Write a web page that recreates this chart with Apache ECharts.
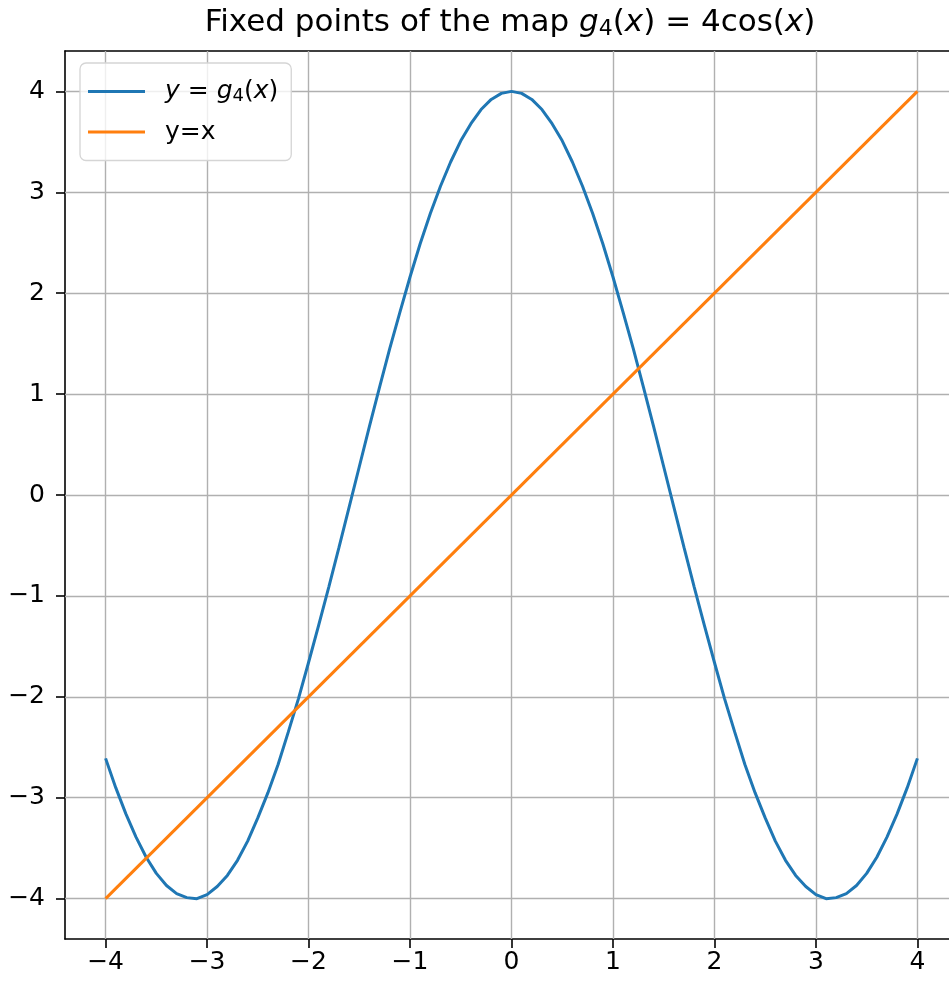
<!DOCTYPE html>
<html>
<head>
<meta charset="utf-8">
<style>
  html, body { margin: 0; padding: 0; background: #ffffff; }
  #chart { width: 949px; height: 981px; }
</style>
<script src="https://cdn.jsdelivr.net/npm/echarts@6/dist/echarts.min.js"></script>
</head>
<body>
<div id="chart"></div>
<script>
// Sample points of the curve y = g4(x)
const curveX = [
  -4.0, -3.9, -3.8, -3.7, -3.6, -3.5, -3.4, -3.3, -3.2, -3.1,
  -3.0, -2.9, -2.8, -2.7, -2.6, -2.5, -2.4, -2.3, -2.2, -2.1,
  -2.0, -1.9, -1.8, -1.7, -1.6, -1.5, -1.4, -1.3, -1.2, -1.1,
  -1.0, -0.9, -0.8, -0.7, -0.6, -0.5, -0.4, -0.3, -0.2, -0.1,
  0.0,
  0.1, 0.2, 0.3, 0.4, 0.5, 0.6, 0.7, 0.8, 0.9, 1.0,
  1.1, 1.2, 1.3, 1.4, 1.5, 1.6, 1.7, 1.8, 1.9, 2.0,
  2.1, 2.2, 2.3, 2.4, 2.5, 2.6, 2.7, 2.8, 2.9, 3.0,
  3.1, 3.2, 3.3, 3.4, 3.5, 3.6, 3.7, 3.8, 3.9, 4.0
];
const curveY = [
  -2.61, -2.90, -3.16, -3.39, -3.59, -3.75, -3.87, -3.95, -3.99, -4.00,
  -3.96, -3.88, -3.77, -3.62, -3.43, -3.20, -2.95, -2.67, -2.35, -2.02,
  -1.66, -1.29, -0.91, -0.52, -0.12, 0.28, 0.68, 1.07, 1.45, 1.81,
  2.16, 2.49, 2.79, 3.06, 3.30, 3.51, 3.68, 3.82, 3.92, 3.98,
  4.00,
  3.98, 3.92, 3.82, 3.68, 3.51, 3.30, 3.06, 2.79, 2.49, 2.16,
  1.81, 1.45, 1.07, 0.68, 0.28, -0.12, -0.52, -0.91, -1.29, -1.66,
  -2.02, -2.35, -2.67, -2.95, -3.20, -3.43, -3.62, -3.77, -3.88, -3.96,
  -4.00, -3.99, -3.95, -3.87, -3.75, -3.59, -3.39, -3.16, -2.90, -2.61
];

// The identity line y = x
const lineX = [-4, 4];
const lineY = [-4, 4];

// Tick positions shared by both axes
const tickValues = [-4, -3, -2, -1, 0, 1, 2, 3, 4];

const seriesNames = ['y = g4(x)', 'y=x'];

const FONT = 'DejaVu Sans';
const fmt = v => (v < 0 ? '\u2212' + Math.abs(v) : String(v));

function axisCommon(labelMargin) {
  return {
    type: 'value',
    min: -4.4,
    max: 4.4,
    axisLine: { show: true, onZero: false, lineStyle: { color: '#000', width: 1.6 } },
    axisTick: { show: true, customValues: tickValues, length: 9, lineStyle: { color: '#000', width: 1.6 } },
    axisLabel: {
      customValues: tickValues, formatter: fmt,
      fontFamily: FONT, fontSize: 25, color: '#000', margin: labelMargin
    },
    splitLine: { show: false }
  };
}

// Top frame line: an extra x axis with only its line drawn
const topFrame = {
  type: 'value',
  position: 'top',
  min: -4.4,
  max: 4.4,
  axisLine: { show: true, onZero: false, lineStyle: { color: '#000', width: 1.6 } },
  axisTick: { show: false },
  axisLabel: { show: false },
  splitLine: { show: false }
};

// Grid lines drawn at each tick value
const gridLines = [];
tickValues.forEach(v => { gridLines.push({ xAxis: v }); gridLines.push({ yAxis: v }); });

const chart = echarts.init(document.getElementById('chart'));
chart.setOption({
  backgroundColor: '#ffffff',
  animation: false,
  title: {
    text: 'Fixed points of the map {i|g}{s|4}({i|x}) = 4cos({i|x})',
    left: 505,
    textAlign: 'center',
    top: 1,
    textStyle: {
      fontFamily: FONT, fontSize: 31, fontWeight: 'normal', color: '#000',
      rich: {
        i: { fontFamily: FONT, fontSize: 31, fontStyle: 'italic', color: '#000' },
        s: { fontFamily: FONT, fontSize: 22, color: '#000', padding: [12, 0, 0, 0] }
      }
    }
  },
  legend: {
    orient: 'vertical',
    left: 80,
    top: 63,
    padding: [16, 13, 16, 8],
    itemWidth: 57,
    itemHeight: 3,
    itemGap: 14,
    icon: 'rect',
    borderColor: '#d5d5d5',
    borderWidth: 1.3,
    borderRadius: 6,
    backgroundColor: 'rgba(255,255,255,0.8)',
    itemTextGap: 20,
    formatter: name => name === seriesNames[0] ? '{i|y} = {i|g}{s|4}({i|x})' : name,
    textStyle: {
      fontFamily: FONT, fontSize: 25, color: '#000', lineHeight: 25,
      padding: [0, 0, 0, 15],
      rich: {
        i: { fontFamily: FONT, fontSize: 25, fontStyle: 'italic', color: '#000' },
        s: { fontFamily: FONT, fontSize: 18, color: '#000', padding: [10, 0, 0, 0] }
      }
    },
    data: seriesNames
  },
  grid: {
    left: 65, width: 893, top: 51, height: 888,
    outerBoundsMode: 'none',
    show: false
  },
  xAxis: [axisCommon(11), topFrame],
  yAxis: axisCommon(20),
  series: [
    {
      name: seriesNames[0],
      type: 'line',
      xAxisIndex: 0,
      data: curveX.map((x, i) => [x, curveY[i]]),
      showSymbol: false,
      lineStyle: { color: '#1f77b4', width: 3 },
      itemStyle: { color: '#1f77b4' },
      z: 3,
      markLine: {
        silent: true,
        symbol: 'none',
        label: { show: false },
        lineStyle: { color: '#b0b0b0', width: 1.4, type: 'solid' },
        emphasis: { disabled: true },
        data: gridLines,
        z: 1
      }
    },
    {
      name: seriesNames[1],
      type: 'line',
      xAxisIndex: 0,
      data: lineX.map((x, i) => [x, lineY[i]]),
      showSymbol: false,
      lineStyle: { color: '#ff7f0e', width: 3 },
      itemStyle: { color: '#ff7f0e' },
      z: 4
    }
  ]
});
</script>
</body>
</html>
